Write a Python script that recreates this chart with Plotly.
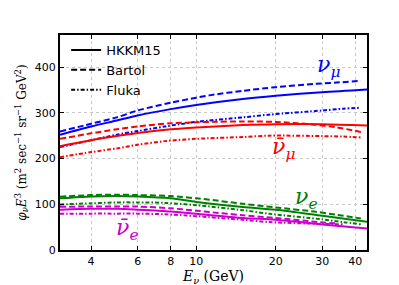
import math
import plotly.graph_objects as go

# ---- data ----
E_hkkm = [3.05, 4, 5, 6, 8, 10, 15, 20, 30, 44.3]
numu_hkkm = [252, 270, 283, 294, 308, 317, 330, 337, 345, 351]
numubar_hkkm = [227, 240, 249, 256, 264, 268, 273, 275, 275, 272]
nue_hkkm = [113, 117, 118, 117, 113, 105, 94, 88, 75, 62]
nuebar_hkkm = [88, 90, 90, 88, 84, 79, 70, 66, 56, 47]

E_bartol = [3.05, 4, 5, 6, 8, 10, 11.2, 15, 20, 28, 34, 42]
numu_bartol = [259, 276, 290, 305, 322, 333, 338, 348, 356, 363, 366, 370]
numubar_bartol = [243, 255, 264, 270, 277, 279, 280, 281, 280, 274, 268, 258]
nue_bartol = [116.5, 120, 121, 120, 118, 113, 110, 101, 93, 84, 77, 69]
nuebar_bartol = [94.5, 95, 95, 95, 91, 86, 83, 76, 70, 62, 58, None]

E_fluka = [3.05, 4, 5, 6, 7.6, 10, 15, 19, 30, 36, 42]
numu_fluka = [225, 240, 252, 260, 270, 280, 290, 296, 305, 309, 311]
numubar_fluka = [203, 214, 222, 230, 238, 243, 247, 250, 249, 248, 246]
nue_fluka = [99.6, 102, 104, 104, 103, 98, 87, 79, 67, 61, 56]
nuebar_fluka = [79, 79.5, 79.5, 79.5, 78, 74, 66, 61, 57, 56, None]

xticks = [4, 6, 8, 10, 20, 30, 40]
yticks = [0, 100, 200, 300, 400]

BLUE, RED, GREEN, MAG = "#0000ff", "#ff0000", "#008000", "#cc00cc"
SOLID, DASH, DASHDOT = "solid", "6px,3px", "4px,2px,1.5px,2px"

fig = go.Figure()

def add(E, y, color, dash):
    fig.add_trace(go.Scatter(x=E, y=y, mode="lines", showlegend=False,
                             line=dict(color=color, width=2, dash=dash,
                                       shape="spline", smoothing=0.8)))

for color, h, b, f in [(BLUE, numu_hkkm, numu_bartol, numu_fluka),
                       (RED, numubar_hkkm, numubar_bartol, numubar_fluka),
                       (GREEN, nue_hkkm, nue_bartol, nue_fluka),
                       (MAG, nuebar_hkkm, nuebar_bartol, nuebar_fluka)]:
    add(E_hkkm, h, color, SOLID)
    add(E_bartol, b, color, DASH)
    add(E_fluka, f, color, DASHDOT)

for name, dash in [("HKKM15", SOLID), ("Bartol", DASH), ("Fluka", DASHDOT)]:
    fig.add_trace(go.Scatter(x=[None], y=[None], mode="lines", name=name,
                             line=dict(color="black", width=2, dash=dash)))

labels = [("<i>ν</i><sub><i>μ</i></sub>", 31.6, 401, BLUE),
          ("<i>ν̄</i><sub><i>μ</i></sub>", 21.4, 221, RED),
          ("<i>ν</i><sub><i>e</i></sub>", 26.1, 113, GREEN),
          ("<i>ν̄</i><sub><i>e</i></sub>", 5.46, 45, MAG)]
for txt, ex, ey, c in labels:
    fig.add_annotation(x=math.log10(ex), y=ey, text=txt, showarrow=False,
                       font=dict(family="DejaVu Serif", size=22, color=c))

axis_common = dict(showline=True, linecolor="black", linewidth=2, mirror="ticks",
                   ticks="inside", ticklen=4, tickcolor="black",
                   showgrid=True, gridcolor="#c8c8c8", griddash="dot", gridwidth=1,
                   zeroline=False, tickfont=dict(family="DejaVu Sans", size=11, color="black"))

fig.update_xaxes(type="log", range=[math.log10(3.05), math.log10(44.3)],
                 tickvals=xticks, ticktext=[str(v) for v in xticks],
                 title=dict(text="<i>E</i><sub><i>ν</i></sub> (GeV)", standoff=3,
                            font=dict(family="DejaVu Serif", size=14, color="black")),
                 **axis_common)
fig.update_yaxes(range=[0, 470], tickvals=yticks,
                 title=dict(text="<i>φ</i><sub><i>ν</i></sub><i>E</i><sup>3</sup> (m<sup>2</sup> sec<sup>−1</sup> sr<sup>−1</sup> GeV<sup>2</sup>)",
                            standoff=6,
                            font=dict(family="DejaVu Serif", size=12, color="black")),
                 **axis_common)

fig.update_layout(width=399, height=285, margin=dict(l=50, r=40, t=27, b=36),
                  paper_bgcolor="white", plot_bgcolor="white",
                  legend=dict(x=0.02, y=1.0, xanchor="left", yanchor="top",
                              bgcolor="rgba(0,0,0,0)", borderwidth=0,
                              font=dict(family="DejaVu Sans", size=13, color="black"),
                              tracegroupgap=0, itemwidth=30))

fig.write_html("out.html")
